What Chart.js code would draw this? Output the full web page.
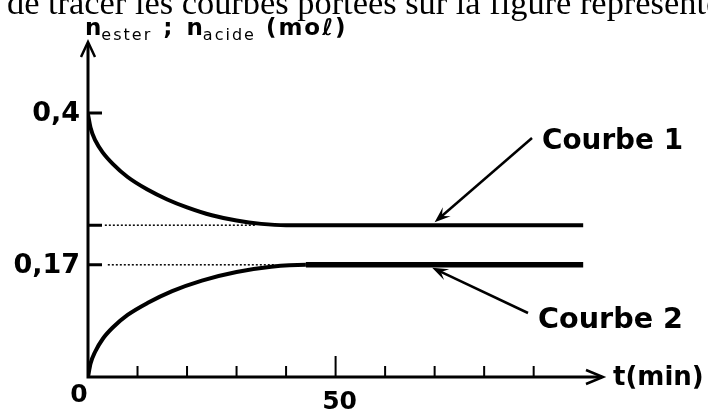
<!DOCTYPE html>
<html><head><meta charset="utf-8">
<script src="https://cdn.jsdelivr.net/npm/chart.js@4"></script>
<style>html,body{margin:0;padding:0;background:#fff;overflow:hidden}#wrap{width:708px;height:410px;position:relative}</style>
</head><body><div id="wrap"><canvas id="c" width="708" height="410"></canvas></div>
<script>
// ---- data ----
const timeUpper = [0, 0.5, 1.5, 3, 5, 8, 12, 16, 20, 25, 30, 35, 40, 100];           // t (min)
const nUpper    = [0.398, 0.378, 0.358, 0.340, 0.323, 0.303, 0.284, 0.269, 0.257, 0.245, 0.237, 0.232, 0.23, 0.23]; // Courbe 1
const timeLower = [0, 0.5, 1.5, 3, 5, 8, 12, 17, 23, 30, 37, 44, 100];
const nLower    = [0, 0.02, 0.039, 0.058, 0.075, 0.094, 0.112, 0.130, 0.146, 0.159, 0.167, 0.17, 0.17]; // Courbe 2
const dottedLevels = [0.23, 0.17];
const dottedFrom   = [3.4, 4];
const dottedTo     = [34, 38];
const xTicks = [10, 20, 30, 40, 50, 60, 70, 80, 90];
const xTickLabels = {0: "0", 50: "50"};
const yTicks = [0.4, 0.23, 0.17];
const yTickLabels = ["0,4", "", "0,17"];
const curveNames = ["Courbe 1", "Courbe 2"];
const headerText = "de tracer les courbes portées sur la figure représentée";

const pts = (xs, ys) => xs.map((x, i) => ({x, y: ys[i]}));
const BOLD = "'DejaVu Sans', sans-serif";

const overlay = {
  id: 'overlay',
  afterDatasetsDraw(chart) {
    const ctx = chart.ctx, xs = chart.scales.x, ys = chart.scales.y;
    const x0 = xs.getPixelForValue(0), y0 = ys.getPixelForValue(0);
    ctx.save();
    ctx.strokeStyle = '#000'; ctx.fillStyle = '#000';
    ctx.lineCap = 'butt';
    // axes
    ctx.lineWidth = 3;
    ctx.beginPath();
    ctx.moveTo(x0, y0 + 1.5); ctx.lineTo(x0, ys.top - 3);
    ctx.moveTo(x0 - 1.5, y0); ctx.lineTo(xs.right - 1, y0);
    ctx.stroke();
    // arrowheads (open)
    ctx.lineWidth = 2.5; ctx.lineJoin = 'miter';
    ctx.beginPath();
    ctx.moveTo(x0 - 7, ys.top + 10); ctx.lineTo(x0, ys.top - 5); ctx.lineTo(x0 + 7, ys.top + 10);
    ctx.moveTo(xs.right - 17, y0 - 7); ctx.lineTo(xs.right, y0); ctx.lineTo(xs.right - 17, y0 + 7);
    ctx.stroke();
    // x ticks (inside, upward)
    ctx.lineWidth = 2;
    ctx.beginPath();
    xTicks.forEach(t => {
      const px = xs.getPixelForValue(t);
      const len = t === 50 ? 21 : 11;
      ctx.moveTo(px, y0); ctx.lineTo(px, y0 - len);
    });
    ctx.stroke();
    // y ticks (inside, rightward)
    ctx.lineWidth = 3;
    ctx.beginPath();
    yTicks.forEach(v => {
      const py = ys.getPixelForValue(v);
      ctx.moveTo(x0, py); ctx.lineTo(x0 + 14, py);
    });
    ctx.stroke();
    // y tick labels
    ctx.font = "bold 27px " + BOLD;
    ctx.textAlign = 'right'; ctx.textBaseline = 'middle';
    yTicks.forEach((v, i) => {
      if (yTickLabels[i]) ctx.fillText(yTickLabels[i], x0 - 8, ys.getPixelForValue(v) + 1);
    });
    // x tick labels
    ctx.font = "bold 25px " + BOLD;
    ctx.textAlign = 'center'; ctx.textBaseline = 'middle';
    Object.keys(xTickLabels).forEach(k => {
      const t = +k;
      const px = xs.getPixelForValue(t) + (t === 0 ? -9 : 4);
      ctx.fillText(xTickLabels[k], px, y0 + (t === 0 ? 18 : 25));
    });
    // x axis title
    ctx.font = "bold 26px " + BOLD;
    ctx.textAlign = 'left';
    ctx.fillText("t(min)", xs.right + 10, y0 + 1, 96);
    // y axis title: n_ester ; n_acide (moℓ)
    let cx = x0 - 3; const base = 35;
    ctx.textBaseline = 'alphabetic';
    const big = "bold 23px " + BOLD, small = "16px " + BOLD;
    const parts = [["n", big, 0, 0], ["ester", small, 5, 2], [" ; ", big, 0, 3], ["n", big, 0, 0], ["acide", small, 5, 2], [" (moℓ)", big, 0, 2]];
    parts.forEach(([s, f, dy, ls]) => {
      ctx.font = f; ctx.letterSpacing = ls + "px";
      ctx.fillText(s, cx, base + dy); cx += ctx.measureText(s).width;
    });
    ctx.letterSpacing = "0px";
    // curve labels and annotation arrows
    ctx.font = "bold 29px " + BOLD;
    ctx.textBaseline = 'middle';
    ctx.fillText(curveNames[0], 542, 141, 141);
    ctx.fillText(curveNames[1], 538, 320, 145);
    const arrow = (x1, y1, x2, y2) => {
      ctx.lineWidth = 2.5;
      ctx.beginPath(); ctx.moveTo(x1, y1);
      const a = Math.atan2(y2 - y1, x2 - x1);
      ctx.lineTo(x2 - 8 * Math.cos(a), y2 - 8 * Math.sin(a)); ctx.stroke();
      const L = 16, W = 6;
      ctx.beginPath();
      ctx.moveTo(x2, y2);
      ctx.lineTo(x2 - L * Math.cos(a) + W * Math.sin(a), y2 - L * Math.sin(a) - W * Math.cos(a));
      ctx.lineTo(x2 - 0.6 * L * Math.cos(a), y2 - 0.6 * L * Math.sin(a));
      ctx.lineTo(x2 - L * Math.cos(a) - W * Math.sin(a), y2 - L * Math.sin(a) + W * Math.cos(a));
      ctx.closePath(); ctx.fill();
    };
    arrow(532, 138, xs.getPixelForValue(70), ys.getPixelForValue(dottedLevels[0]) - 3);
    arrow(528, 313, xs.getPixelForValue(69.5), ys.getPixelForValue(dottedLevels[1]) + 3);
    // header text (cut at the top of the picture)
    ctx.font = "34.4px 'Liberation Serif', 'Times New Roman', serif";
    ctx.textBaseline = 'alphabetic'; ctx.textAlign = 'left';
    ctx.fillText(headerText, 7, 14);
    ctx.restore();
  }
};

const dotted = dottedLevels.map((lv, i) => ({
  data: [{x: dottedFrom[i], y: lv}, {x: dottedTo[i], y: lv}],
  borderColor: '#000', borderWidth: 1.5, borderDash: [2, 2], pointRadius: 0, fill: false
}));

new Chart(document.getElementById('c'), {
  type: 'line',
  data: {
    datasets: [
      ...dotted,
      { label: curveNames[0], data: pts(timeUpper, nUpper), borderColor: '#000', borderWidth: 4,
        pointRadius: 0, fill: false, cubicInterpolationMode: 'monotone' },
      { label: curveNames[1], data: pts(timeLower, nLower), borderColor: '#000', borderWidth: 4,
        pointRadius: 0, fill: false, cubicInterpolationMode: 'monotone',
        segment: { borderWidth: c => c.p0.parsed.x >= 44 ? 5.5 : 4 } }
    ]
  },
  options: {
    responsive: false, animation: false, devicePixelRatio: 1,
    layout: { padding: { left: 88, right: 105, top: 47, bottom: 33 } },
    scales: {
      x: { type: 'linear', min: 0, max: 104, display: false },
      y: { type: 'linear', min: 0, max: 0.5, display: false }
    },
    plugins: { legend: { display: false }, tooltip: { enabled: false } }
  },
  plugins: [overlay]
});
</script></body></html>
